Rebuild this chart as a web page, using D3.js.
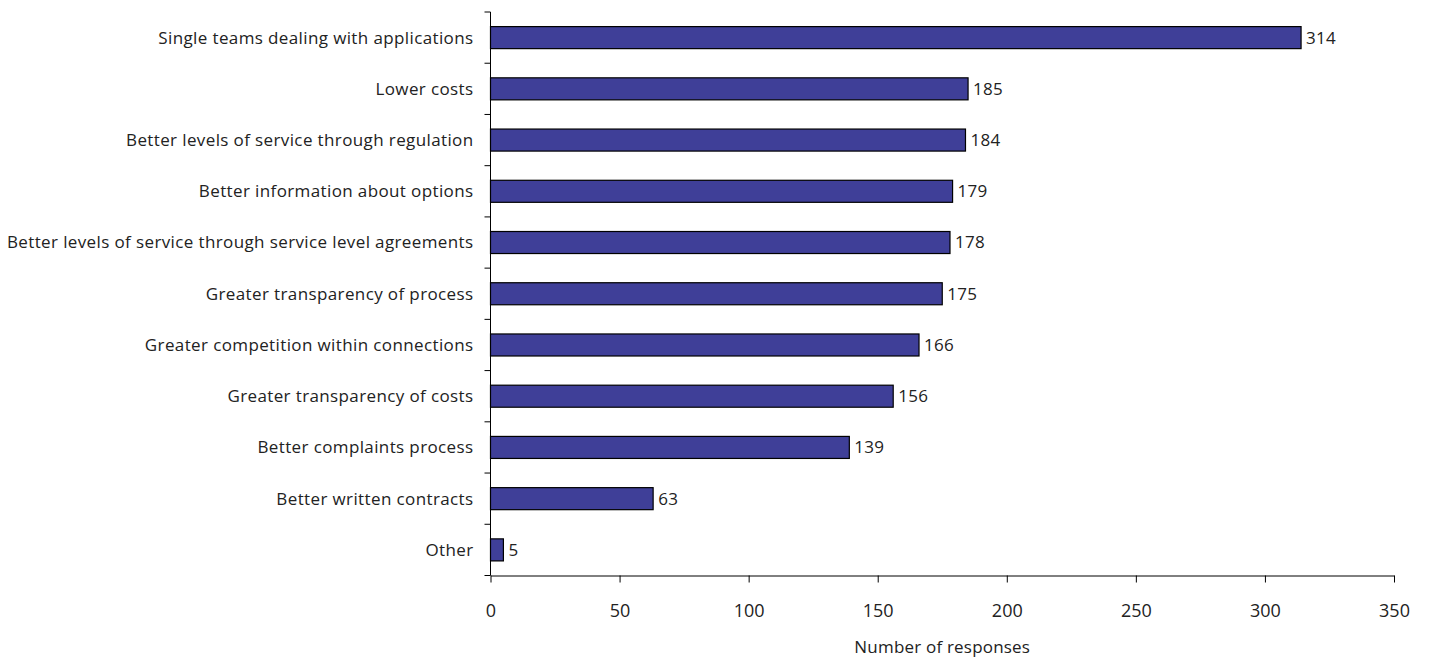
<!DOCTYPE html>
<html>
<head>
<meta charset="utf-8">
<script src="https://cdn.jsdelivr.net/npm/d3@7"></script>
<style>
  html, body { margin: 0; padding: 0; background: #fff; }
  svg text { font-family: "Open Sans", "Liberation Sans", Arial, sans-serif; fill: #222; }
</style>
</head>
<body>
<svg id="chart" width="1429" height="657"></svg>
<script>
// Survey responses per improvement option
const categories = [
  "Single teams dealing with applications",
  "Lower costs",
  "Better levels of service through regulation",
  "Better information about options",
  "Better levels of service through service level agreements",
  "Greater transparency of process",
  "Greater competition within connections",
  "Greater transparency of costs",
  "Better complaints process",
  "Better written contracts",
  "Other"
];
const responses = [314, 185, 184, 179, 178, 175, 166, 156, 139, 63, 5];
const xTicks = [0, 50, 100, 150, 200, 250, 300, 350];
const xTitle = "Number of responses";

const svg = d3.select("#chart");
const plotLeft = 490.5, plotRight = 1394, plotTop = 12, plotBottom = 575.5;
const fontFamily = "Open Sans, Liberation Sans, Arial, sans-serif";

const x = d3.scaleLinear().domain([0, 350]).range([plotLeft, plotRight]);
const y = d3.scaleBand().domain(categories).range([plotTop, plotBottom]).paddingInner(0.57).paddingOuter(0.285);

// Bars
svg.append("g").selectAll("rect")
  .data(categories)
  .join("rect")
  .attr("x", x(0))
  .attr("y", d => y(d))
  .attr("width", (d, i) => x(responses[i]) - x(0))
  .attr("height", y.bandwidth())
  .attr("fill", "#3f3f98")
  .attr("stroke", "#000")
  .attr("stroke-width", 1.2);

// Value labels
svg.append("g").selectAll("text")
  .data(categories)
  .join("text")
  .attr("x", (d, i) => x(responses[i]) + 5)
  .attr("y", d => y(d) + y.bandwidth() / 2)
  .attr("dy", "0.35em")
  .attr("font-size", 17)
  .attr("letter-spacing", 0.3)
  .text((d, i) => responses[i]);

// Y axis: ticks sit between the categories
const yAxis = svg.append("g");
yAxis.append("line")
  .attr("x1", plotLeft).attr("x2", plotLeft)
  .attr("y1", plotTop).attr("y2", plotBottom)
  .attr("stroke", "#000");
const step = y.step();
yAxis.selectAll("line.tick")
  .data(d3.range(categories.length + 1))
  .join("line")
  .attr("class", "tick")
  .attr("x1", plotLeft - 6).attr("x2", plotLeft)
  .attr("y1", i => plotTop + i * step).attr("y2", i => plotTop + i * step)
  .attr("stroke", "#000");
yAxis.selectAll("text")
  .data(categories)
  .join("text")
  .attr("x", plotLeft - 17)
  .attr("y", d => y(d) + y.bandwidth() / 2)
  .attr("dy", "0.35em")
  .attr("text-anchor", "end")
  .attr("font-size", 17)
  .attr("letter-spacing", 0.38)
  .text(d => d);

// X axis
const xAxis = svg.append("g")
  .attr("transform", `translate(0,${plotBottom})`)
  .call(d3.axisBottom(x).tickValues(xTicks).tickSize(7).tickSizeOuter(0).tickPadding(22));
xAxis.select(".domain").attr("stroke", "#000");
xAxis.selectAll(".tick line").attr("stroke", "#000");
xAxis.selectAll(".tick text")
  .attr("font-size", 18)
  .attr("font-family", fontFamily)
  .attr("fill", "#222");

svg.append("text")
  .attr("x", (x(0) + x(350)) / 2)
  .attr("y", 647)
  .attr("dy", "0.35em")
  .attr("text-anchor", "middle")
  .attr("font-size", 17)
  .attr("letter-spacing", 0.2)
  .text(xTitle);
</script>
</body>
</html>
